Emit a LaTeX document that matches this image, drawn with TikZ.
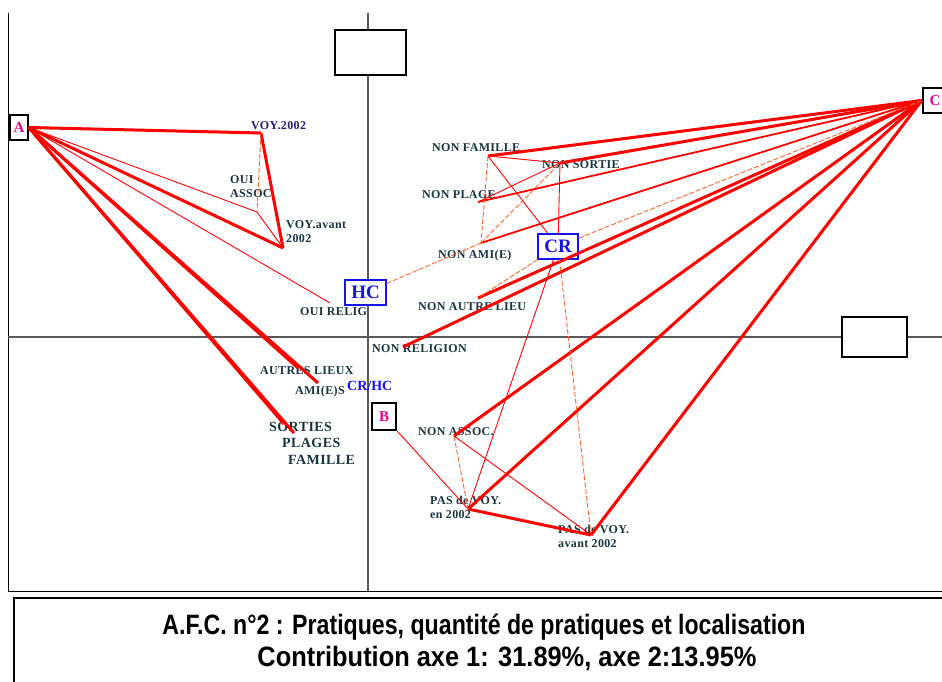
\documentclass[tikz,border=0pt]{standalone}
\usepackage{fontspec}
\setmainfont{Liberation Serif}
\newfontfamily\lblfont[LetterSpace=3]{Liberation Serif}
\newfontfamily\capfont{Liberation Sans}
\usepackage{xcolor}
\usetikzlibrary{positioning}
\definecolor{lblcol}{RGB}{24,52,64}
\definecolor{navy}{RGB}{30,30,120}
\definecolor{grpblue}{RGB}{20,20,230}
\definecolor{weakred}{RGB}{255,100,40}

\begin{document}
\begin{tikzpicture}[x=1pt, y=-1pt, every node/.style={inner sep=0pt},
    lbl/.style={anchor=base west, align=left, text=lblcol, font=\lblfont\bfseries\fontsize{12}{14}\selectfont},
    biglbl/.style={anchor=base west, text=lblcol, font=\lblfont\bfseries\fontsize{14}{15}\selectfont},
    pole/.style={draw=black, line width=2.2pt, fill=white, text=magenta, font=\bfseries\fontsize{15}{15}\selectfont},
    grp/.style={draw=grpblue, line width=1.4pt, fill=white, text=grpblue, font=\bfseries\fontsize{19}{19}\selectfont, minimum width=41pt, minimum height=25pt},
    blank/.style={draw=black, line width=2pt, fill=white},
    strong/.style={draw=red, line width=3pt},
    medline/.style={draw=red, line width=1.8pt},
    light/.style={draw=red, line width=0.9pt},
    weak/.style={draw=weakred, line width=0.9pt, dash pattern=on 5pt off 2pt}]
    \useasboundingbox (0,0) rectangle (942,682);
    % Frame and axes
    \draw[line width=1pt] (8,13) -- (8,591) -- (942,591);
    \draw[gray!70!black, line width=1.2pt] (368,13) -- (368,591);
    \draw[gray!70!black, line width=1.2pt] (8,337) -- (942,337);
    \node[blank, minimum width=71pt, minimum height=45pt] (top) at (370.5,52.5) {};
    \node[blank, minimum width=65pt, minimum height=40pt] (right) at (874.5,337) {};
    % Category points
    \coordinate (voy02) at (261,133);
    \coordinate (ouiassoc) at (257,212);
    \coordinate (voyav) at (283,248);
    \coordinate (ouirelig) at (330,303);
    \coordinate (autres) at (298,368);
    \coordinate (amis) at (318,383);
    \coordinate (sorties) at (284,424);
    \coordinate (plages) at (294,433);
    \coordinate (nonfam) at (488,156);
    \coordinate (nonsort) at (560,163);
    \coordinate (nonplage) at (478,202);
    \coordinate (nonami) at (481,243);
    \coordinate (nonautre) at (478,298);
    \coordinate (nonrelig) at (403,347);
    \coordinate (nonassoc) at (454,436);
    \coordinate (pasen) at (468,509);
    \coordinate (pasav) at (591,535);
    % Labels
    \node[lbl, text=navy] (tvoy02) at (251,129) {VOY.2002};
    \node[lbl] (touiassoc) at (230,197) {OUI\\ASSOC.};
    \node[lbl] (tvoyav) at (286,242) {VOY.avant\\2002};
    \node[lbl] (touirelig) at (300,315) {OUI RELIG};
    \node[lbl] (tautres) at (260,374) {AUTRES LIEUX};
    \node[lbl] (tamis) at (295,394) {AMI(E)S};
    \node[biglbl] (tsorties) at (269,431) {SORTIES};
    \node[biglbl] (tplages) at (282,447) {PLAGES};
    \node[biglbl] (tfamille) at (288,464) {FAMILLE};
    \node[lbl] (tnonfam) at (432,152) {NON FAMILLE};
    \node[lbl] (tnonsort) at (542,168) {NON SORTIE};
    \node[lbl] (tnonplage) at (422,198) {NON PLAGE};
    \node[lbl] (tnonami) at (438,258) {NON AMI(E)};
    \node[lbl] (tnonautre) at (418,310) {NON AUTRE LIEU};
    \node[lbl] (tnonrelig) at (372,352) {NON RELIGION};
    \node[lbl] (tnonassoc) at (418,435) {NON ASSOC.};
    \node[lbl] (tpasen) at (430,518) {PAS de VOY.\\en 2002};
    \node[lbl] (tpasav) at (558,547) {PAS de VOY.\\avant 2002};
    \node[anchor=base west, text=grpblue, font=\bfseries\fontsize{14}{14}\selectfont] (crhc) at (347,390) {CR/HC};
    % Poles and groups
    \node[pole, line width=1.5pt, minimum width=18pt, minimum height=25pt] (A) at (19,127.5) {A};
    \node[pole, line width=2.6pt, minimum width=24pt, minimum height=27pt] (B) at (384,416.5) {B};
    \node[pole, line width=2.6pt, minimum width=24pt, minimum height=25pt] (C) at (935,100.5) {C};
    \node[grp] (HC) at (365.5,292.5) {HC};
    \node[grp, minimum width=40pt] (CR) at (558,246.5) {CR};
    % Links from A
    \foreach \p in {voy02,voyav,autres,amis,sorties,plages}
        \draw[strong] (A.east) -- (\p);
    \draw[light] (A.east) -- (ouiassoc);
    \draw[light] (A.east) -- (ouirelig);
    \draw[strong] (voy02) -- (voyav);
    \draw[weak] (voy02) -- (ouiassoc);
    \draw[light] (ouiassoc) -- (voyav);
    % Links from C
    \foreach \p in {nonfam,nonsort,nonautre,nonrelig,nonassoc,pasen,pasav}
        \draw[strong] (C.west) -- (\p);
    \draw[medline] (C.west) -- (nonplage);
    \draw[medline] (C.west) -- (nonami);
    \draw[weak] (CR) -- (C.west);
    % Other links
    \draw[light] (nonfam) -- (nonsort);
    \draw[light] (nonfam) -- (CR);
    \draw[weak] (nonfam) -- (nonami);
    \draw[light] (nonplage) -- (nonsort);
    \draw[weak] (nonami) -- (nonsort);
    \draw[weak] (HC) -- (nonami);
    \draw[light] (nonsort) -- (CR);
    \draw[weak] (CR) -- (nonautre);
    \draw[light] (CR) -- (pasen);
    \draw[weak] (CR) -- (pasav);
    \draw[light] (B) -- (pasen);
    \draw[weak] (nonassoc) -- (pasen);
    \draw[light] (nonassoc) -- (pasav);
    \draw[strong] (pasen) -- (pasav);
    % Caption
    \draw[line width=1.5pt] (14,598) rectangle (950,690);
    \node (cap1) at (484,627) {\resizebox{643pt}{\height}{\capfont\bfseries\fontsize{28}{30}\selectfont A.F.C. n°2 : Pratiques, quantité de pratiques et localisation}};
    \node (cap2) at (507,659) {\resizebox{499pt}{\height}{\capfont\bfseries\fontsize{28}{30}\selectfont Contribution axe 1: 31.89\%, axe 2:13.95\%}};
\end{tikzpicture}
\end{document}
